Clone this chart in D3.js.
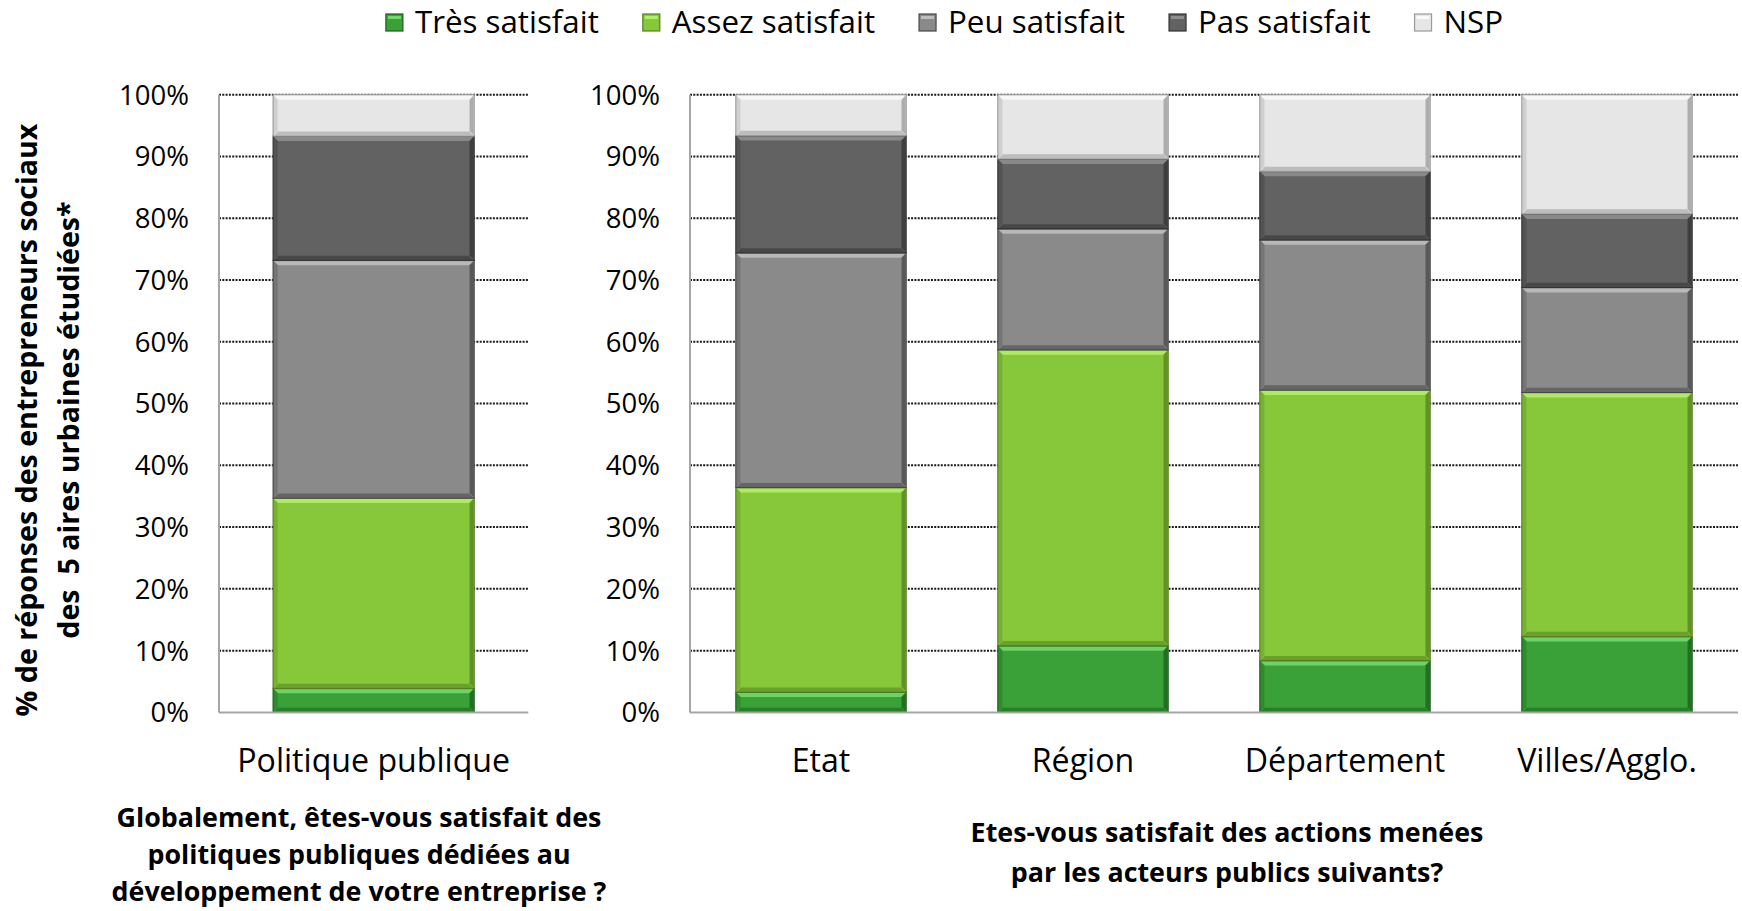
<!DOCTYPE html>
<html lang="fr">
<head>
<meta charset="utf-8">
<title>Satisfaction des entrepreneurs sociaux</title>
<script src="https://cdn.jsdelivr.net/npm/d3@7"></script>
<style>
  body { margin: 0; background: #fff; }
  svg { display: block; font-family: "Open Sans", Lato, sans-serif; }
  text { fill: #000; }
  .title { font-weight: bold; }
</style>
</head>
<body>
<script>
// categories and panels
var categories = ["Politique publique", "Etat", "Région", "Département", "Villes/Agglo."];
var panelOf = [0, 1, 1, 1, 1];
var seriesNames = ["Très satisfait", "Assez satisfait", "Peu satisfait", "Pas satisfait", "NSP"];

// values in %
var tresSatisfait  = [3.9, 3.3, 10.8, 8.4, 12.3];
var assezSatisfait = [30.8, 33.1, 47.9, 43.8, 39.5];
var peuSatisfait   = [38.5, 38.0, 19.6, 24.3, 17.0];
var pasSatisfait   = [20.1, 19.0, 11.3, 11.1, 11.9];
var nsp            = [6.7, 6.6, 10.4, 12.4, 19.3];

var yTicks = [0, 10, 20, 30, 40, 50, 60, 70, 80, 90, 100];

var colors = {
  "Très satisfait":  {base: "#3AA038", light: "#72D86C", dark: "#1C5E1C"},
  "Assez satisfait": {base: "#86C83A", light: "#B4EE66", dark: "#557F22"},
  "Peu satisfait":   {base: "#8A8A8A", light: "#BDBDBD", dark: "#474747"},
  "Pas satisfait":   {base: "#626262", light: "#8E8E8E", dark: "#333333"},
  "NSP":             {base: "#E6E6E6", light: "#FAFAFA", dark: "#9A9A9A"}
};

var w = 1742, h = 911;
var svg = d3.select("body").append("svg").attr("width", w).attr("height", h);

// font size that gives the first text of sel the wanted width
function fitSize(sel, target) {
  var n = sel.node();
  var fs = parseFloat(sel.style("font-size"));
  return fs * target / n.getComputedTextLength();
}

// build table for d3.stack
var rows = categories.map(function(c, i) {
  return {
    cat: c, panel: panelOf[i],
    "Très satisfait": tresSatisfait[i],
    "Assez satisfait": assezSatisfait[i],
    "Peu satisfait": peuSatisfait[i],
    "Pas satisfait": pasSatisfait[i],
    "NSP": nsp[i]
  };
});
var stacked = d3.stack().keys(seriesNames)(rows);

var y = d3.scaleLinear().domain([0, 100]).range([712.4, 94.7]);

var panels = [
  {x0: 219, x1: 528.3, labelX: 189},
  {x0: 690, x1: 1738, labelX: 660}
];
panels.forEach(function(p, pi) {
  p.cats = categories.filter(function(c, i) { return panelOf[i] === pi; });
  p.x = d3.scaleBand().domain(p.cats).range([p.x0, p.x1]).paddingInner(0.35).paddingOuter(0.175);
});

function xOf(d) { return panels[d.data.panel].x(d.data.cat); }
function bwOf(d) { return panels[d.data.panel].x.bandwidth(); }

panels.forEach(function(p) {
  var g = svg.append("g");
  // gridlines
  g.selectAll("line.grid").data(yTicks.slice(1)).enter().append("line")
    .attr("x1", p.x0).attr("x2", p.x1)
    .attr("y1", function(d) { return y(d); }).attr("y2", function(d) { return y(d); })
    .attr("stroke", "#1a1a1a").attr("stroke-width", 2).attr("stroke-dasharray", "2,1.3");
  // tick labels
  g.selectAll("text.tick-label").data(yTicks).enter().append("text")
    .attr("class", "tick-label")
    .attr("x", p.labelX).attr("y", function(d) { return y(d); })
    .attr("dy", "0.36em").attr("text-anchor", "end")
    .text(function(d) { return d + "%"; });
  // category labels
  g.selectAll("text.cat-label").data(p.cats).enter().append("text")
    .attr("class", "cat-label")
    .attr("x", function(d) { return p.x(d) + p.x.bandwidth() / 2; })
    .attr("y", 772).attr("text-anchor", "middle")
    .text(function(d) { return d; });
});
var tickSize = fitSize(svg.selectAll(".tick-label").filter(function(d) { return d === 100; }), 70);
svg.selectAll(".tick-label").style("font-size", tickSize + "px");
var catSize = fitSize(svg.selectAll(".cat-label").filter(function(d) { return d === "Politique publique"; }), 273);
svg.selectAll(".cat-label").style("font-size", catSize + "px");

// bars with bevel look
var bev = 4;
stacked.forEach(function(s) {
  var c = colors[s.key];
  var g = svg.append("g");
  var seg = g.selectAll("g").data(s).enter().append("g");
  seg.append("rect")
    .attr("x", xOf).attr("width", bwOf)
    .attr("y", function(d) { return y(d[1]); })
    .attr("height", function(d) { return y(d[0]) - y(d[1]); })
    .attr("fill", c.base).attr("stroke", c.dark).attr("stroke-width", 1.2);
  // top highlight
  seg.append("path").attr("fill", c.light).attr("opacity", 0.9)
    .attr("d", function(d) {
      var x0 = xOf(d) + 1, x1 = xOf(d) + bwOf(d) - 1, t = y(d[1]) + 1;
      return "M" + x0 + "," + t + "L" + x1 + "," + t + "L" + (x1 - bev) + "," + (t + bev) + "L" + (x0 + bev) + "," + (t + bev) + "Z";
    });
  // right shadow
  seg.append("path").attr("fill", c.dark).attr("opacity", 0.75)
    .attr("d", function(d) {
      var x1 = xOf(d) + bwOf(d) - 0.6, t = y(d[1]) + 1, b = y(d[0]) - 1;
      return "M" + x1 + "," + t + "L" + x1 + "," + b + "L" + (x1 - bev) + "," + (b - bev) + "L" + (x1 - bev) + "," + (t + bev) + "Z";
    });
  // bottom shadow
  seg.append("path").attr("fill", c.dark).attr("opacity", 0.55)
    .attr("d", function(d) {
      var x0 = xOf(d) + 1, x1 = xOf(d) + bwOf(d) - 1, b = y(d[0]) - 0.6;
      return "M" + x0 + "," + b + "L" + x1 + "," + b + "L" + (x1 - bev) + "," + (b - bev) + "L" + (x0 + bev) + "," + (b - bev) + "Z";
    });
  // left edge
  seg.append("path").attr("fill", c.dark).attr("opacity", 0.3)
    .attr("d", function(d) {
      var x0 = xOf(d) + 0.6, t = y(d[1]) + 1, b = y(d[0]) - 1;
      return "M" + x0 + "," + t + "L" + (x0 + bev) + "," + (t + bev) + "L" + (x0 + bev) + "," + (b - bev) + "L" + x0 + "," + b + "Z";
    });
});

// axis lines
panels.forEach(function(p) {
  svg.append("line").attr("x1", p.x0).attr("x2", p.x0).attr("y1", y(100)).attr("y2", y(0))
    .attr("stroke", "#a6a6a6").attr("stroke-width", 2);
  svg.append("line").attr("x1", p.x0).attr("x2", p.x1).attr("y1", y(0)).attr("y2", y(0))
    .attr("stroke", "#a6a6a6").attr("stroke-width", 2);
});

// legend
var legend = svg.append("g");
var items = legend.selectAll("g").data(seriesNames).enter().append("g");
items.append("rect").attr("x", 0).attr("y", 14).attr("width", 17).attr("height", 17)
  .attr("fill", function(d) { return colors[d].base; })
  .attr("stroke", function(d) { return colors[d].dark; }).attr("stroke-width", 1.2);
items.append("rect").attr("x", 2).attr("y", 16).attr("width", 13).attr("height", 3)
  .attr("fill", function(d) { return colors[d].light; });
items.append("text").attr("class", "legend-label").attr("x", 29).attr("y", 22).attr("dy", "0.36em")
  .text(function(d) { return d; });
var legSize = fitSize(legend.selectAll(".legend-label"), 184);
legend.selectAll(".legend-label").style("font-size", legSize + "px");
var lx = 0;
items.each(function() {
  var it = d3.select(this);
  it.attr("transform", "translate(" + lx + ",0)");
  lx += 29 + it.select("text").node().getComputedTextLength() + 44;
});
legend.attr("transform", "translate(" + (944.5 - (lx - 44) / 2) + ",0)");

// y axis title
var yt = svg.append("text").attr("class", "title").attr("transform", "translate(48,420) rotate(-90)")
  .attr("text-anchor", "middle");
yt.append("tspan").attr("x", 0).attr("y", -21).attr("dy", "0.35em").text("% de réponses des entrepreneurs sociaux");
yt.append("tspan").attr("x", 0).attr("y", 21).attr("dy", "0.35em").text("des  5 aires urbaines étudiées*").style("white-space", "pre");
yt.style("font-size", fitSize(yt.select("tspan"), 593) + "px");

// bottom titles
var leftTitle = ["Globalement, êtes-vous satisfait des", "politiques publiques dédiées au", "développement de votre entreprise ?"];
var rightTitle = ["Etes-vous satisfait des actions menées", "par les acteurs publics suivants?"];
var lt = svg.append("g").selectAll("text").data(leftTitle).enter().append("text")
  .attr("class", "title bottom-title").attr("text-anchor", "middle")
  .attr("x", 359).attr("y", function(d, i) { return 818 + i * 37; }).attr("dy", "0.35em")
  .text(function(d) { return d; });
svg.append("g").selectAll("text").data(rightTitle).enter().append("text")
  .attr("class", "title bottom-title").attr("text-anchor", "middle")
  .attr("x", 1227).attr("y", function(d, i) { return 833 + i * 40; }).attr("dy", "0.35em")
  .text(function(d) { return d; });
var btSize = fitSize(lt.filter(function(d, i) { return i === 0; }), 485);
svg.selectAll(".bottom-title").style("font-size", btSize + "px");
</script>
</body>
</html>
